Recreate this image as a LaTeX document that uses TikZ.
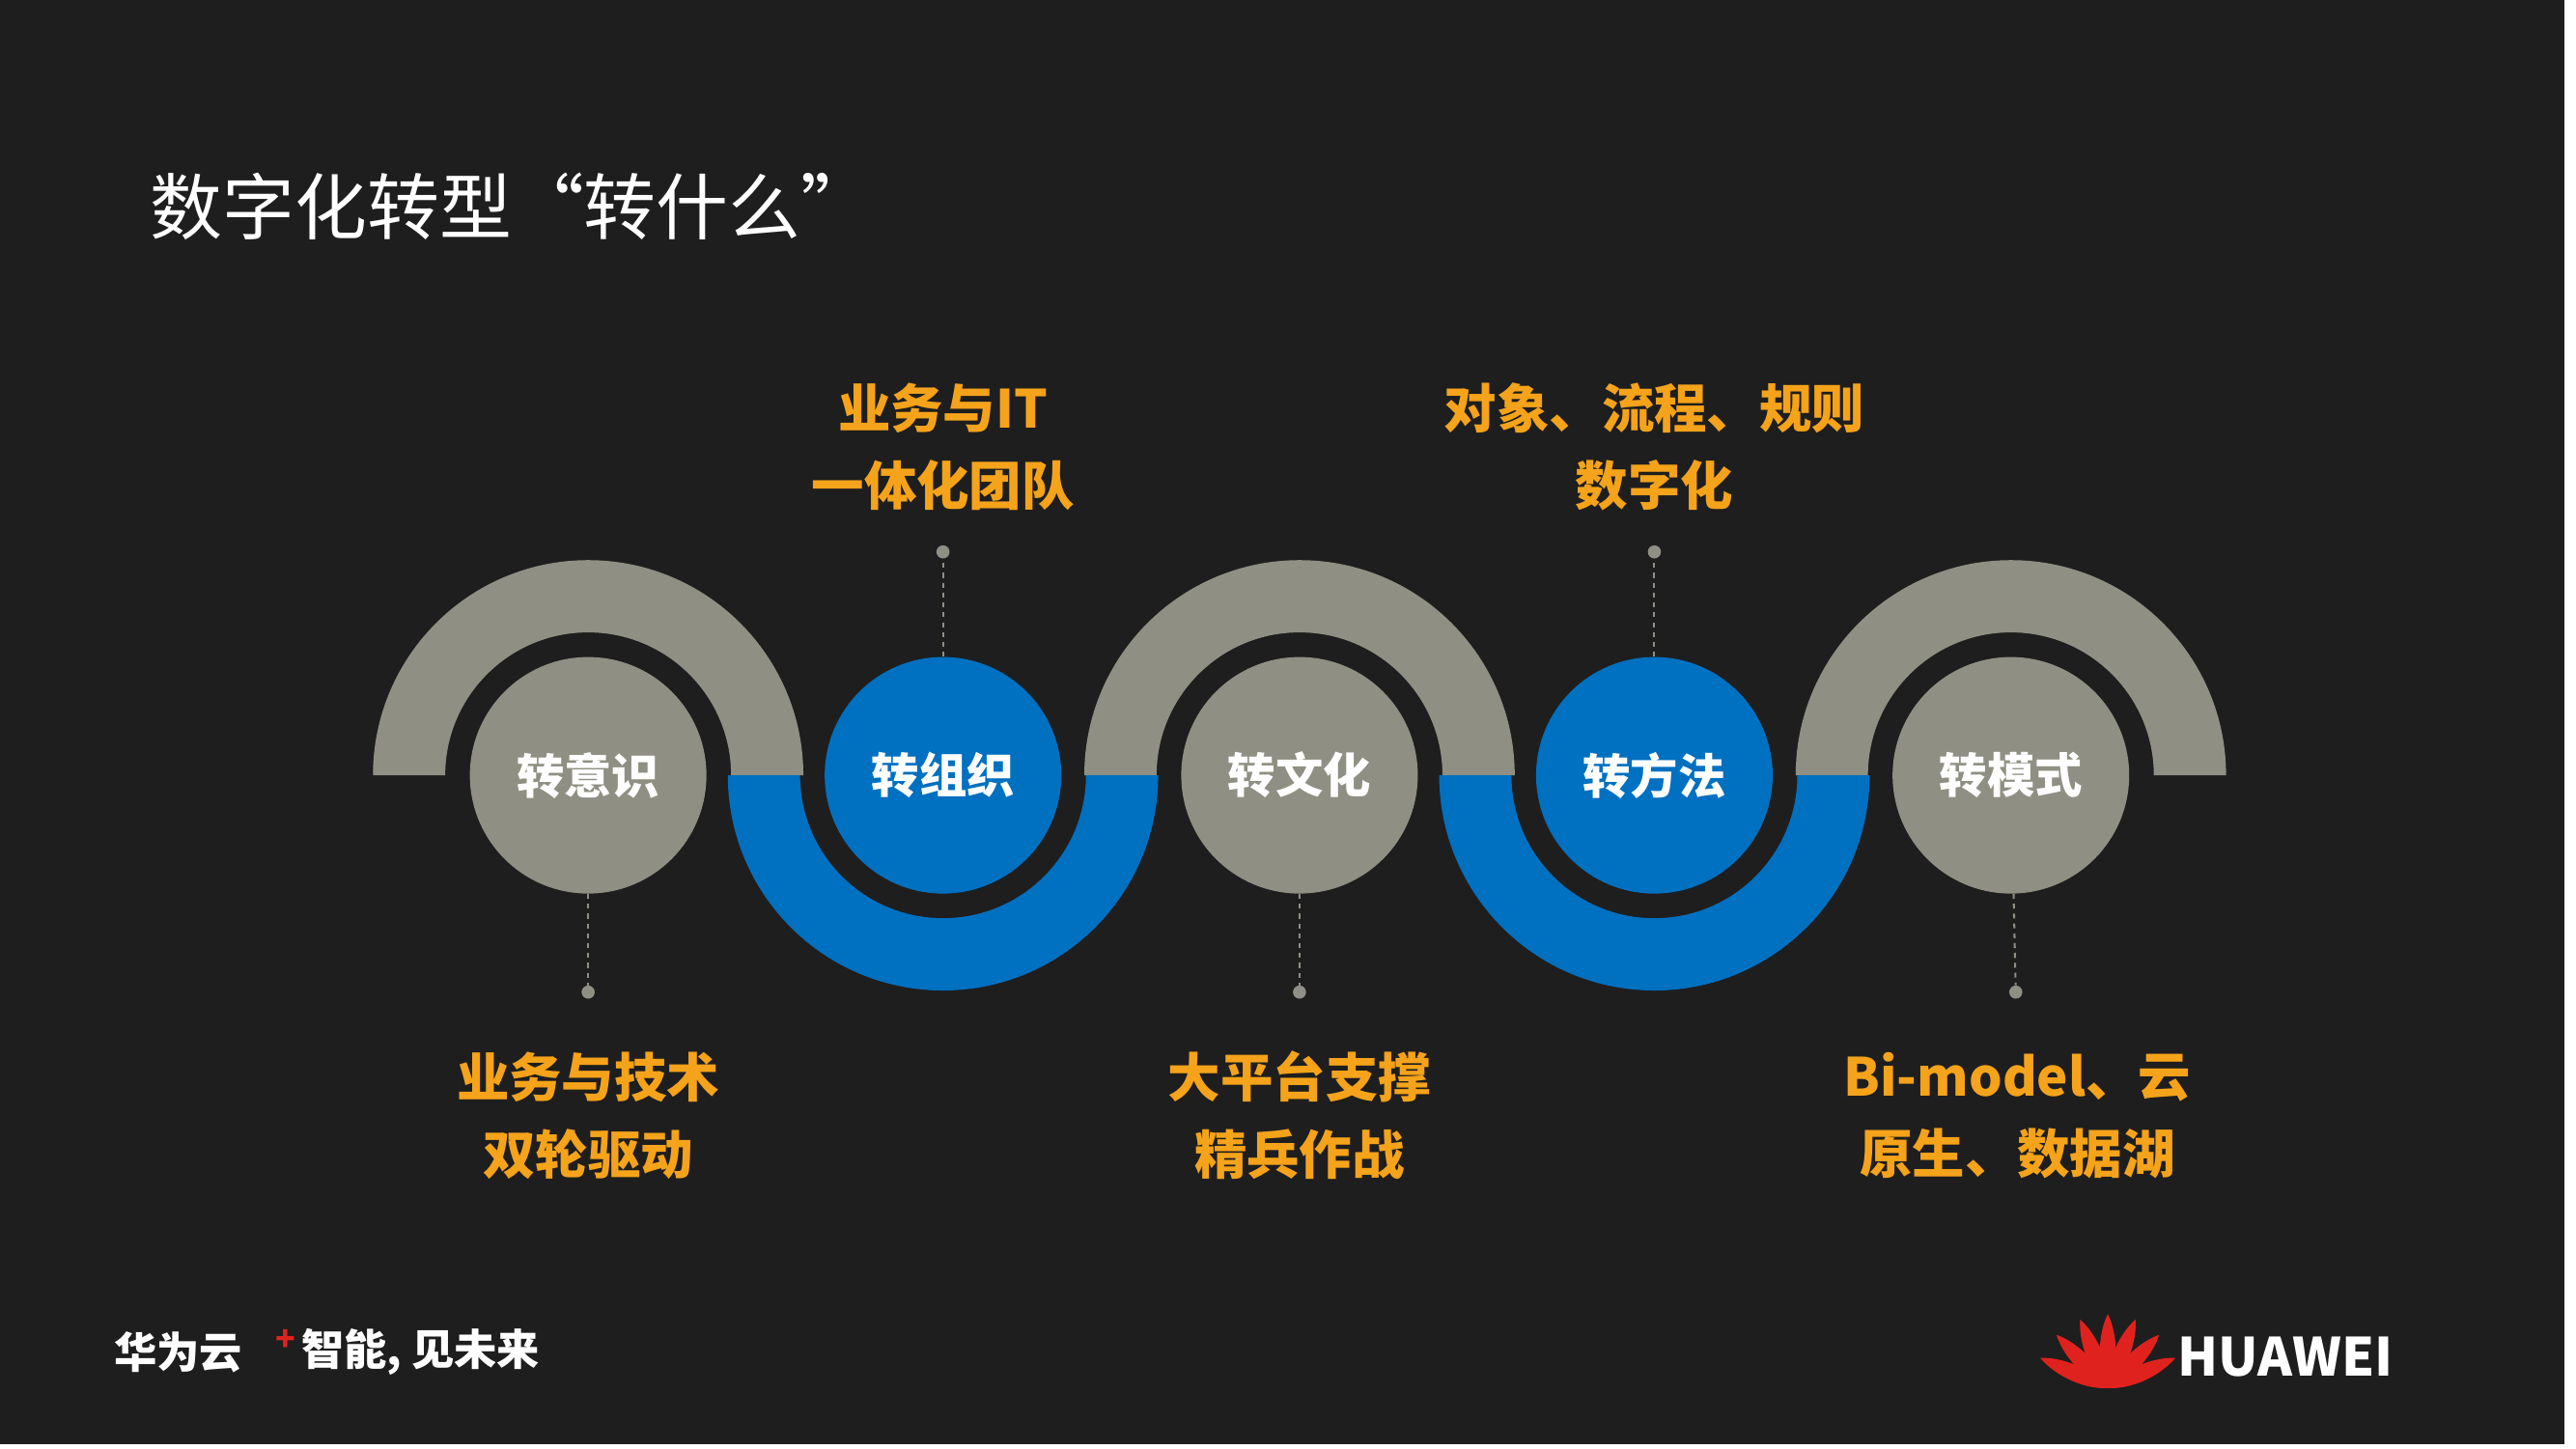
\documentclass[tikz,border=0pt]{standalone}
\usepackage{fontspec}
\setmainfont{Noto Sans CJK SC}
\definecolor{bg}{HTML}{1E1E1E}
\definecolor{gr}{HTML}{8F8F83}
\definecolor{bl}{HTML}{0070C0}
\definecolor{og}{HTML}{F5A31A}
\definecolor{hr}{HTML}{E0221F}
\tikzset{
 lbl/.style={text=og,font=\fontsize{32}{47}\selectfont\bfseries,align=center},
 circ/.style={circle,minimum size=144pt,inner sep=0pt,text=white,font=\fontsize{29}{34}\selectfont\bfseries},
 dot/.style={circle,fill=gr,inner sep=0pt,minimum size=8pt},
 lead/.style={draw=gr,dashed,line width=1.2pt}
}
\begin{document}
\begin{tikzpicture}[x=1pt,y=-1pt]
\useasboundingbox (0,0) rectangle (1568,882);
\fill[white] (0,0) rectangle (1568,882);
\fill[bg] (0,0) rectangle (1561,879);
\node[anchor=west,text=white,font=\fontsize{44}{50}\selectfont] (title) at (88,126) {数字化转型“转什么”};
% arcs
\foreach \c in {358,791,1224}{
 \fill[gr] (\c-131,472) arc[start angle=180,end angle=360,radius=131] -- (\c+87,472) arc[start angle=360,end angle=180,radius=87] -- cycle;}
\foreach \c in {574,1007}{
 \fill[bl] (\c-131,472) arc[start angle=180,end angle=0,radius=131] -- (\c+87,472) arc[start angle=0,end angle=180,radius=87] -- cycle;}
\node[circ,fill=gr] (c1) at (358,472) {转意识};
\node[circ,fill=bl] (c2) at (574,472) {转组织};
\node[circ,fill=gr] (c3) at (791,472) {转文化};
\node[circ,fill=bl] (c4) at (1007,472) {转方法};
\node[circ,fill=gr] (c5) at (1224,472) {转模式};
\foreach \n/\x in {1/358,3/791,5/1227}{
 \node[dot] (d\n) at (\x,604) {};
 \draw[lead] (c\n) -- (d\n);}
\foreach \n/\x in {2/574,4/1007}{
 \node[dot] (d\n) at (\x,336) {};
 \draw[lead] (c\n) -- (d\n);}
\node[lbl] (l2) at (574,272) {业务与IT\\一体化团队};
\node[lbl] (l4) at (1007,272) {对象、流程、规则\\数字化};
\node[lbl] (l1) at (358,679) {业务与技术\\双轮驱动};
\node[lbl] (l3) at (791,679) {大平台支撑\\精兵作战};
\node[lbl] (l5) at (1228,679) {Bi-model、云\\原生、数据湖};
% footer
\node[anchor=west,text=white,font=\fontsize{26}{30}\selectfont\bfseries] (f1) at (66,823) {华为云};
\node[anchor=west,text=hr,font=\fontsize{20}{24}\selectfont\bfseries] (plus) at (164,816) {+};
\node[anchor=west,text=white,font=\fontsize{26}{30}\selectfont\bfseries] (f2) at (180,823) {智能, 见未来};
% logo
\foreach \a in {-66,-44,-22,0,22,44,66}{
 \fill[hr,rotate around={\a:(1283,845)}] (1283,845) .. controls (1276,832) and (1277,812) .. (1283,800) .. controls (1289,812) and (1290,832) .. (1283,845);}
\node[anchor=west,text=white,font=\fontsize{32}{36}\selectfont\bfseries] (hw) at (1322,826) {HUAWEI};
\end{tikzpicture}
\end{document}
